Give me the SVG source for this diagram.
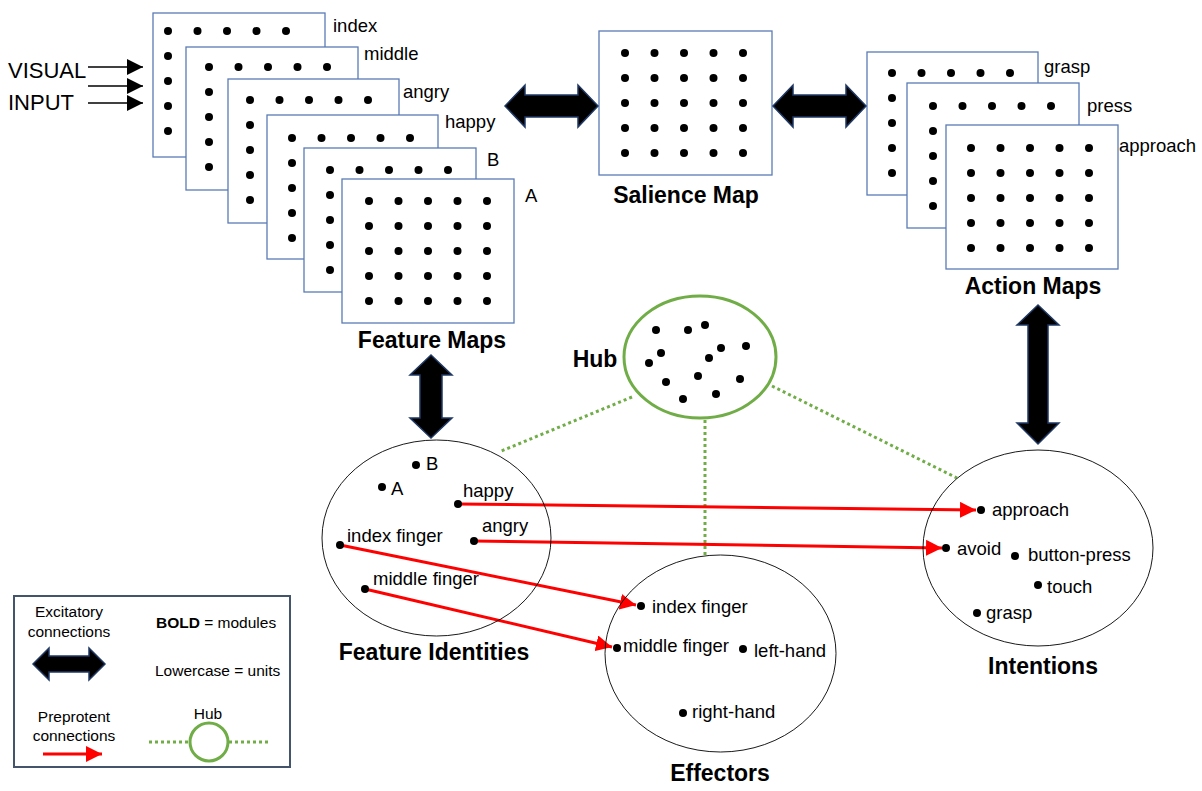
<svg xmlns="http://www.w3.org/2000/svg" xmlns:xlink="http://www.w3.org/1999/xlink" width="1202" height="791" viewBox="0 0 1202 791">
<style>
  .map{fill:#fff;stroke:#5b7bb5;stroke-width:1.3}
  .dot{fill:#000}
  .lbl{font-family:"Liberation Sans",Arial,sans-serif;font-size:18.5px;fill:#000}
  .big{font-family:"Liberation Sans",Arial,sans-serif;font-size:22px;fill:#000}
  .title{font-family:"Liberation Sans",Arial,sans-serif;font-size:23px;font-weight:bold;fill:#000}
  .leg{font-family:"Liberation Sans",Arial,sans-serif;font-size:15.5px;fill:#000}
  .mod{fill:none;stroke:#000;stroke-width:0.9}
  .hub{fill:#fff;stroke:#70ad47;stroke-width:3}
  .dash{stroke:#70ad47;stroke-width:3;stroke-dasharray:3 3;fill:none}
  .red{stroke:#ff0000;stroke-width:3;fill:none}
  .blk{stroke:#000;stroke-width:1.5;fill:none}
  .dbl{fill:#000;stroke:#1f3864;stroke-width:1.5;stroke-linejoin:miter}
</style>
<defs>
  <g id="grid">
    <circle class="dot" cx="0" cy="0" r="4"/><circle class="dot" cx="29.5" cy="0" r="4"/><circle class="dot" cx="59" cy="0" r="4"/><circle class="dot" cx="88.5" cy="0" r="4"/><circle class="dot" cx="118" cy="0" r="4"/>
    <circle class="dot" cx="0" cy="25" r="4"/><circle class="dot" cx="29.5" cy="25" r="4"/><circle class="dot" cx="59" cy="25" r="4"/><circle class="dot" cx="88.5" cy="25" r="4"/><circle class="dot" cx="118" cy="25" r="4"/>
    <circle class="dot" cx="0" cy="50" r="4"/><circle class="dot" cx="29.5" cy="50" r="4"/><circle class="dot" cx="59" cy="50" r="4"/><circle class="dot" cx="88.5" cy="50" r="4"/><circle class="dot" cx="118" cy="50" r="4"/>
    <circle class="dot" cx="0" cy="75" r="4"/><circle class="dot" cx="29.5" cy="75" r="4"/><circle class="dot" cx="59" cy="75" r="4"/><circle class="dot" cx="88.5" cy="75" r="4"/><circle class="dot" cx="118" cy="75" r="4"/>
    <circle class="dot" cx="0" cy="100" r="4"/><circle class="dot" cx="29.5" cy="100" r="4"/><circle class="dot" cx="59" cy="100" r="4"/><circle class="dot" cx="88.5" cy="100" r="4"/><circle class="dot" cx="118" cy="100" r="4"/>
  </g>
  <marker id="redhead" markerUnits="userSpaceOnUse" markerWidth="16" markerHeight="16" refX="14" refY="7" orient="auto" viewBox="0 0 14 14">
    <path d="M0,0 L14,7 L0,14 Z" fill="#ff0000"/>
  </marker>
  <marker id="blkhead" markerUnits="userSpaceOnUse" markerWidth="16" markerHeight="16" refX="14" refY="7" orient="auto" viewBox="0 0 14 14">
    <path d="M0,0 L14,7 L0,14 Z" fill="#000"/>
  </marker>
</defs>
<rect width="1202" height="791" fill="#fff"/>

<g id="visual-input">
  <text class="big" x="8" y="78">VISUAL</text>
  <text class="big" x="8" y="110">INPUT</text>
  <line class="blk" x1="88" y1="67" x2="143" y2="67" marker-end="url(#blkhead)"/>
  <line class="blk" x1="88" y1="86" x2="143" y2="86" marker-end="url(#blkhead)"/>
  <line class="blk" x1="88" y1="103" x2="143" y2="103" marker-end="url(#blkhead)"/>
</g>

<g id="feature-maps">
  <rect class="map" x="153" y="13" width="172" height="144"/>
  <use xlink:href="#grid" x="168" y="31"/>
  <text class="lbl" x="333" y="32">index</text>
  <rect class="map" x="186" y="47" width="172" height="143"/>
  <use xlink:href="#grid" x="209" y="67"/>
  <text class="lbl" x="364" y="60">middle</text>
  <rect class="map" x="228" y="79" width="171" height="144"/>
  <use xlink:href="#grid" x="250" y="100"/>
  <text class="lbl" x="403" y="98">angry</text>
  <rect class="map" x="267" y="115" width="171" height="144"/>
  <use xlink:href="#grid" x="292" y="138"/>
  <text class="lbl" x="445" y="128">happy</text>
  <rect class="map" x="304" y="148" width="172" height="144"/>
  <use xlink:href="#grid" x="330" y="170"/>
  <text class="lbl" x="487" y="166">B</text>
  <rect class="map" x="342" y="179" width="172" height="144"/>
  <use xlink:href="#grid" x="369" y="201"/>
  <text class="lbl" x="525" y="202">A</text>
  <text class="title" x="432" y="348" text-anchor="middle">Feature Maps</text>
</g>

<g id="salience-map">
  <rect class="map" x="599" y="31" width="173" height="144"/>
  <use xlink:href="#grid" x="625" y="53"/>
  <text class="title" x="686" y="203" text-anchor="middle">Salience Map</text>
</g>

<g id="action-maps">
  <rect class="map" x="867" y="52" width="171" height="143"/>
  <use xlink:href="#grid" x="892" y="73"/>
  <text class="lbl" x="1044" y="73">grasp</text>
  <rect class="map" x="907" y="83" width="172" height="145"/>
  <use xlink:href="#grid" x="933" y="106"/>
  <text class="lbl" x="1087" y="112">press</text>
  <rect class="map" x="946" y="125" width="172" height="144"/>
  <use xlink:href="#grid" x="971" y="148"/>
  <text class="lbl" x="1119" y="152">approach</text>
  <text class="title" x="1033" y="294" text-anchor="middle">Action Maps</text>
</g>

<g id="connectors">
  <path class="dbl" d="M505,106 L525,85 L525,95 L578,95 L578,85 L598,106 L578,127 L578,117 L525,117 L525,127 Z"/>
  <path class="dbl" d="M773,106 L793,85 L793,95 L846,95 L846,85 L866,106 L846,127 L846,117 L793,117 L793,127 Z"/>
  <path class="dbl" d="M431,355 L452,375 L442,375 L442,418 L452,418 L431,438 L410,418 L420,418 L420,375 L410,375 Z"/>
  <path class="dbl" d="M1038,305 L1059,325 L1048,325 L1048,423 L1059,423 L1038,444 L1017,423 L1028,423 L1028,325 L1017,325 Z"/>
  <line class="dash" x1="632" y1="397" x2="499" y2="452"/>
  <line class="dash" x1="705" y1="420" x2="705" y2="555"/>
  <line class="dash" x1="772" y1="386" x2="957" y2="478"/>
  <line class="red" x1="458" y1="504" x2="976" y2="510" marker-end="url(#redhead)"/>
  <line class="red" x1="474" y1="541" x2="942" y2="548" marker-end="url(#redhead)"/>
  <line class="red" x1="340" y1="545" x2="636" y2="605" marker-end="url(#redhead)"/>
  <line class="red" x1="365" y1="589" x2="612" y2="647" marker-end="url(#redhead)"/>
</g>

<g id="hub">
  <ellipse class="hub" cx="700" cy="357" rx="76" ry="61"/>
  <circle class="dot" cx="656" cy="330" r="4"/>
  <circle class="dot" cx="688" cy="330" r="4"/>
  <circle class="dot" cx="705" cy="325" r="4"/>
  <circle class="dot" cx="661" cy="353" r="4"/>
  <circle class="dot" cx="649" cy="363" r="4"/>
  <circle class="dot" cx="721" cy="348" r="4"/>
  <circle class="dot" cx="746" cy="346" r="4"/>
  <circle class="dot" cx="709" cy="358" r="4"/>
  <circle class="dot" cx="666" cy="382" r="4"/>
  <circle class="dot" cx="698" cy="376" r="4"/>
  <circle class="dot" cx="740" cy="379" r="4"/>
  <circle class="dot" cx="683" cy="399" r="4"/>
  <circle class="dot" cx="716" cy="394" r="4"/>
  <text class="title" x="595" y="367" text-anchor="middle">Hub</text>
</g>

<g id="feature-identities">
  <ellipse class="mod" cx="436.5" cy="538" rx="114.5" ry="98"/>
  <circle class="dot" cx="416" cy="465" r="4"/><text class="lbl" x="426" y="470">B</text>
  <circle class="dot" cx="382" cy="487" r="4"/><text class="lbl" x="391" y="495">A</text>
  <circle class="dot" cx="458" cy="504" r="4"/><text class="lbl" x="463" y="497">happy</text>
  <circle class="dot" cx="474" cy="541" r="4"/><text class="lbl" x="482" y="532">angry</text>
  <circle class="dot" cx="340" cy="545" r="4"/><text class="lbl" x="347" y="542">index finger</text>
  <circle class="dot" cx="365" cy="589" r="4"/><text class="lbl" x="373" y="585">middle finger</text>
  <text class="title" x="434" y="660" text-anchor="middle">Feature Identities</text>
</g>

<g id="effectors">
  <ellipse class="mod" cx="720.5" cy="653.5" rx="115.5" ry="98.5"/>
  <circle class="dot" cx="641" cy="606" r="4"/><text class="lbl" x="652" y="613">index finger</text>
  <circle class="dot" cx="617" cy="648" r="4"/><text class="lbl" x="623" y="652">middle finger</text>
  <circle class="dot" cx="743" cy="649" r="4"/><text class="lbl" x="754" y="657">left-hand</text>
  <circle class="dot" cx="683" cy="713" r="4"/><text class="lbl" x="692" y="718">right-hand</text>
  <text class="title" x="720" y="781" text-anchor="middle">Effectors</text>
</g>

<g id="intentions">
  <ellipse class="mod" cx="1038" cy="548" rx="115" ry="98"/>
  <circle class="dot" cx="981" cy="510" r="4"/><text class="lbl" x="992" y="516">approach</text>
  <circle class="dot" cx="946" cy="548" r="4"/><text class="lbl" x="957" y="555">avoid</text>
  <circle class="dot" cx="1015" cy="556" r="4"/><text class="lbl" x="1028" y="561">button-press</text>
  <circle class="dot" cx="1038" cy="585" r="4"/><text class="lbl" x="1047" y="593">touch</text>
  <circle class="dot" cx="977" cy="613" r="4"/><text class="lbl" x="986" y="619">grasp</text>
  <text class="title" x="1043" y="674" text-anchor="middle">Intentions</text>
</g>

<g id="legend">
  <rect x="14" y="596" width="276" height="171" fill="#fff" stroke="#44546a" stroke-width="2"/>
  <text class="leg" x="69" y="617" text-anchor="middle">Excitatory</text>
  <text class="leg" x="69" y="637" text-anchor="middle">connections</text>
  <path class="dbl" d="M33,664 L49,648 L49,656 L89,656 L89,648 L105,664 L89,680 L89,672 L49,672 L49,680 Z"/>
  <text class="leg" x="156" y="628"><tspan font-weight="bold">BOLD</tspan> = modules</text>
  <text class="leg" x="155" y="676">Lowercase = units</text>
  <text class="leg" x="74" y="722" text-anchor="middle">Preprotent</text>
  <text class="leg" x="74" y="741" text-anchor="middle">connections</text>
  <line class="red" x1="43" y1="754" x2="102" y2="754" marker-end="url(#redhead)"/>
  <text class="leg" x="208" y="719" text-anchor="middle">Hub</text>
  <line class="dash" x1="149" y1="742" x2="189" y2="742"/>
  <line class="dash" x1="229" y1="742" x2="269" y2="742"/>
  <circle cx="209" cy="742" r="19" fill="#fff" stroke="#70ad47" stroke-width="3"/>
</g>
</svg>
